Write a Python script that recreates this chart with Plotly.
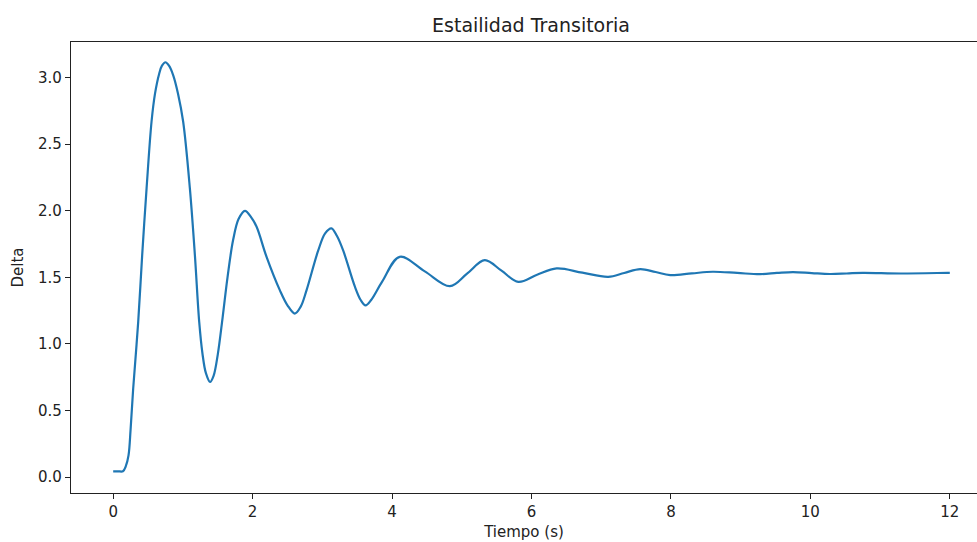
import plotly.graph_objects as go

# Rotor angle response after the disturbance
tiempo = [0.0, 0.07, 0.14, 0.18, 0.22, 0.25, 0.287, 0.359, 0.416, 0.479, 0.55, 0.60,
          0.66, 0.70, 0.75, 0.80, 0.86, 0.93, 1.004, 1.10, 1.172, 1.234, 1.28, 1.33,
          1.39, 1.44, 1.50, 1.57, 1.64, 1.72, 1.80, 1.89, 1.98, 2.057, 2.20, 2.39,
          2.50, 2.606, 2.69, 2.774, 2.94, 3.04, 3.13, 3.21, 3.30, 3.467, 3.55, 3.62,
          3.70, 3.86, 4.11, 4.47, 4.83, 5.08, 5.33, 5.57, 5.81, 6.08, 6.36,
          6.73, 7.10, 7.33, 7.56, 7.78, 7.99, 8.30, 8.60, 8.95, 9.28, 9.52, 9.75,
          10.02, 10.28, 10.52, 10.75, 11.30, 11.97, 12.0]
delta = [0.043, 0.043, 0.043, 0.08, 0.163, 0.36, 0.665, 1.165, 1.667, 2.168, 2.669, 2.88,
         3.03, 3.09, 3.116, 3.09, 3.02, 2.88, 2.669, 2.168, 1.667, 1.165, 0.93, 0.78,
         0.714, 0.76, 0.92, 1.20, 1.50, 1.78, 1.94, 2.0, 1.95, 1.88, 1.654, 1.404,
         1.29, 1.228, 1.28, 1.404, 1.70, 1.83, 1.868, 1.81, 1.70, 1.43, 1.33, 1.29,
         1.33, 1.47, 1.654, 1.545, 1.434, 1.53, 1.629, 1.55, 1.466, 1.52, 1.567,
         1.535, 1.504, 1.533, 1.562, 1.54, 1.517, 1.53, 1.542, 1.533, 1.524, 1.533, 1.540,
         1.532, 1.525, 1.529, 1.534, 1.529, 1.534, 1.534]

x_ticks = [0, 2, 4, 6, 8, 10, 12]
y_ticks = [0.0, 0.5, 1.0, 1.5, 2.0, 2.5, 3.0]

fig = go.Figure()
fig.add_trace(go.Scatter(
    x=tiempo, y=delta, mode="lines",
    line=dict(color="#1f77b4", width=2.2, shape="spline", smoothing=1.0),
    showlegend=False,
))

axis_font = dict(family="DejaVu Sans", size=15, color="#222222")
fig.update_layout(
    width=977, height=542,
    margin=dict(l=71, r=0, t=42, b=49),
    paper_bgcolor="white", plot_bgcolor="white",
    font=dict(family="DejaVu Sans", color="#222222"),
    title=dict(text="Estailidad Transitoria", x=531 / 977, xanchor="center",
               y=1 - 25 / 542, yanchor="middle",
               font=dict(family="DejaVu Sans", size=19, color="#222222")),
    xaxis=dict(
        range=[-0.605, 12.39], tickvals=x_ticks, ticktext=[str(v) for v in x_ticks],
        showgrid=False, zeroline=False, showline=True, mirror=True,
        linecolor="#222222", linewidth=1.2,
        ticks="outside", ticklen=5, tickcolor="#222222", tickfont=axis_font,
        title=dict(text="Tiempo (s)", font=axis_font, standoff=6),
    ),
    yaxis=dict(
        range=[-0.12, 3.268], tickvals=y_ticks, ticktext=[f"{v:.1f}" for v in y_ticks],
        showgrid=False, zeroline=False, showline=True, mirror=False,
        linecolor="#222222", linewidth=1.2,
        ticks="outside", ticklen=5, tickcolor="#222222", tickfont=axis_font,
        title=dict(text="Delta", font=axis_font, standoff=10),
    ),
)

fig.write_html("out.html")
